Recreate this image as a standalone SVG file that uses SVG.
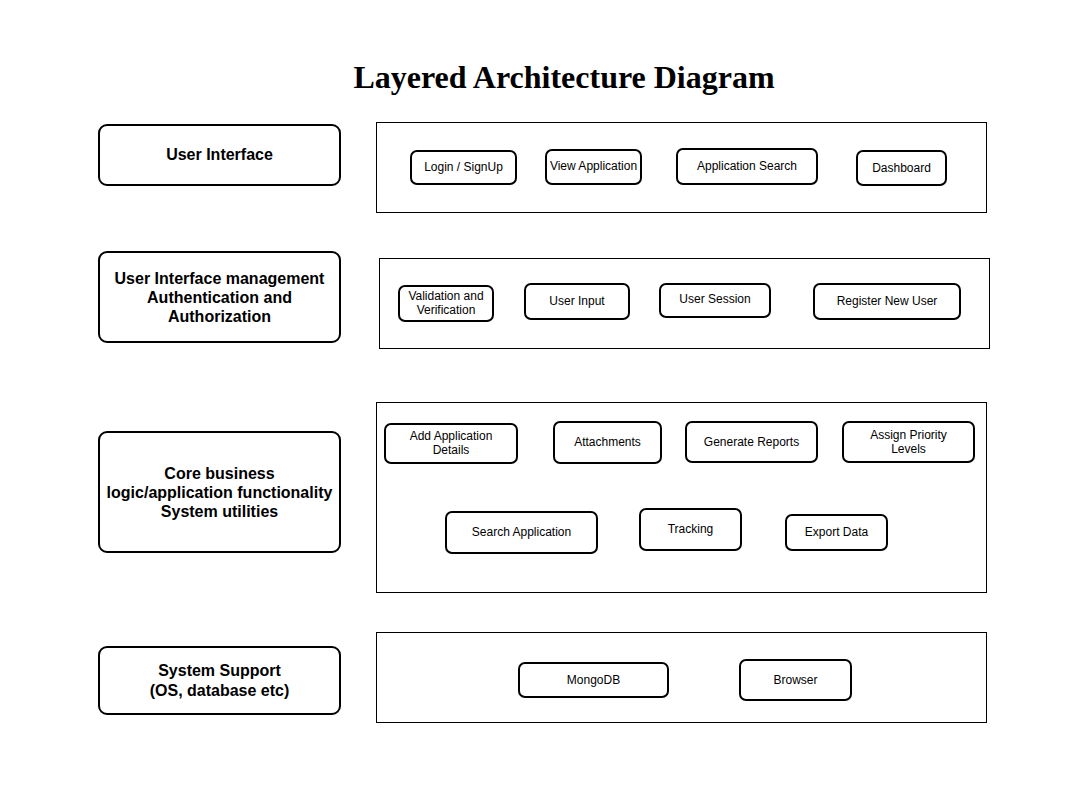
<svg xmlns="http://www.w3.org/2000/svg" width="1080" height="802" viewBox="0 0 1080 802">
<style>
.title{font-family:"Liberation Serif","Times New Roman",serif;font-weight:bold;font-size:32px;fill:#000;text-anchor:middle}
.layer{fill:#fff;stroke:#000;stroke-width:2}
.lt{font-family:"Liberation Sans",Arial,sans-serif;font-weight:bold;font-size:16px;fill:#000;text-anchor:middle}
.cont{fill:#fff;stroke:#000;stroke-width:1}
.item{fill:#fff;stroke:#000;stroke-width:2}
.it{font-family:"Liberation Sans",Arial,sans-serif;font-size:12px;fill:#000;text-anchor:middle}
</style>
<rect width="1080" height="802" fill="#fff"/>
<text class="title" x="564" y="88">Layered Architecture Diagram</text>

<g id="layer-ui"><rect class="layer" x="99" y="125" width="241" height="60" rx="8"/><text class="lt" x="219.5" y="160">User Interface</text></g>
<g id="layer-auth"><rect class="layer" x="99" y="252" width="241" height="90" rx="8"/><text class="lt" x="219.5" y="284">User Interface management</text><text class="lt" x="219.5" y="303">Authentication and</text><text class="lt" x="219.5" y="322">Authorization</text></g>
<g id="layer-core"><rect class="layer" x="99" y="432" width="241" height="120" rx="8"/><text class="lt" x="219.5" y="479">Core business</text><text class="lt" x="219.5" y="498">logic/application functionality</text><text class="lt" x="219.5" y="517">System utilities</text></g>
<g id="layer-support"><rect class="layer" x="99" y="647" width="241" height="67" rx="8"/><text class="lt" x="219.5" y="676">System Support</text><text class="lt" x="219.5" y="696">(OS, database etc)</text></g>

<g id="container-ui"><rect class="cont" x="376.5" y="122.5" width="610" height="90"/></g>
<g id="container-auth"><rect class="cont" x="379.5" y="258.5" width="610" height="90"/></g>
<g id="container-core"><rect class="cont" x="376.5" y="402.5" width="610" height="190"/></g>
<g id="container-support"><rect class="cont" x="376.5" y="632.5" width="610" height="90"/></g>

<g id="login"><rect class="item" x="411" y="151" width="105" height="33" rx="6"/><text class="it" x="463.5" y="171">Login / SignUp</text></g>
<g id="view-app"><rect class="item" x="546" y="150" width="95" height="34" rx="6"/><text class="it" x="593.5" y="170">View Application</text></g>
<g id="app-search"><rect class="item" x="677" y="149" width="140" height="35" rx="6"/><text class="it" x="747" y="170">Application Search</text></g>
<g id="dashboard"><rect class="item" x="857" y="151" width="89" height="34" rx="6"/><text class="it" x="901.5" y="172">Dashboard</text></g>

<g id="validation"><rect class="item" x="399" y="286" width="94" height="35" rx="6"/><text class="it" x="446" y="300">Validation and</text><text class="it" x="446" y="314">Verification</text></g>
<g id="user-input"><rect class="item" x="525" y="284" width="104" height="35" rx="6"/><text class="it" x="577" y="305">User Input</text></g>
<g id="user-session"><rect class="item" x="660" y="284" width="110" height="33" rx="6"/><text class="it" x="715" y="303">User Session</text></g>
<g id="register"><rect class="item" x="814" y="284" width="146" height="35" rx="6"/><text class="it" x="887" y="305">Register New User</text></g>

<g id="add-app"><rect class="item" x="385" y="424" width="132" height="39" rx="6"/><text class="it" x="451" y="440">Add Application</text><text class="it" x="451" y="454">Details</text></g>
<g id="attachments"><rect class="item" x="554" y="422" width="107" height="41" rx="6"/><text class="it" x="607.5" y="446">Attachments</text></g>
<g id="gen-reports"><rect class="item" x="686" y="422" width="131" height="40" rx="6"/><text class="it" x="751.5" y="446">Generate Reports</text></g>
<g id="priority"><rect class="item" x="843" y="422" width="131" height="40" rx="6"/><text class="it" x="908.5" y="439">Assign Priority</text><text class="it" x="908.5" y="453">Levels</text></g>
<g id="search-app"><rect class="item" x="446" y="512" width="151" height="41" rx="6"/><text class="it" x="521.5" y="536">Search Application</text></g>
<g id="tracking"><rect class="item" x="640" y="509" width="101" height="41" rx="6"/><text class="it" x="690.5" y="533">Tracking</text></g>
<g id="export"><rect class="item" x="786" y="515" width="101" height="35" rx="6"/><text class="it" x="836.5" y="536">Export Data</text></g>

<g id="mongodb"><rect class="item" x="519" y="663" width="149" height="34" rx="6"/><text class="it" x="593.5" y="684">MongoDB</text></g>
<g id="browser"><rect class="item" x="740" y="660" width="111" height="40" rx="6"/><text class="it" x="795.5" y="684">Browser</text></g>
</svg>
